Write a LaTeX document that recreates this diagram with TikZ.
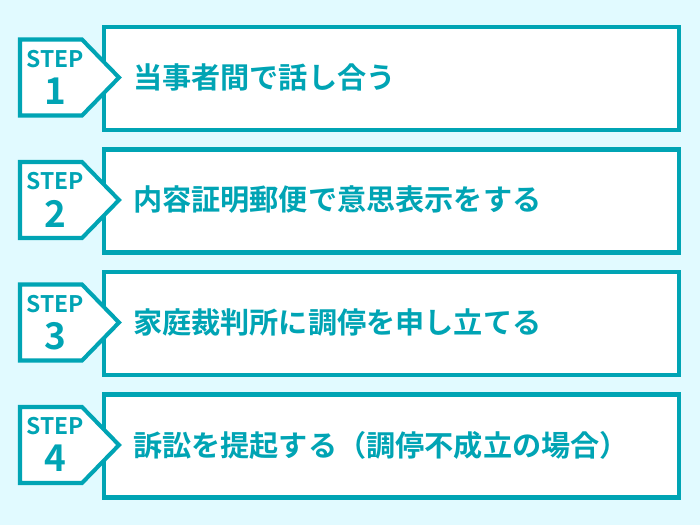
\documentclass[tikz,border=0pt]{standalone}
\usepackage{fontspec}
\usepackage{xcolor}
\newfontfamily\jpfont{Noto Sans CJK JP}[BoldFont=* Bold]
\definecolor{stepteal}{RGB}{0, 164, 180}
\definecolor{paleaqua}{RGB}{225, 250, 255}

\begin{document}
\begin{tikzpicture}[x=0.02cm, y=-0.02cm, line width=2.3pt,
    every node/.style={font=\jpfont\bfseries, text=stepteal},
    stepbox/.style={draw=stepteal, fill=white, minimum width=11.5cm, minimum height=2.06cm, inner sep=0pt},
    steptag/.style={draw=stepteal, fill=white, line join=miter},
    steplabel/.style={font=\jpfont\bfseries\fontsize{13}{13}\selectfont, inner sep=0pt},
    stepnum/.style={font=\jpfont\bfseries\fontsize{21}{21}\selectfont, inner sep=0pt},
    steptext/.style={font=\jpfont\bfseries\fontsize{16.6}{16.6}\selectfont, anchor=west, inner sep=0pt}]
    % background
    \fill[paleaqua] (0,0) rectangle (700,525);

    % Step 1
    \node[stepbox] (box1) at (391.5,78.5) {};
    \draw[steptag] (20,39.5) -- (82,39.5) -- (119,77.5) -- (82,115.5) -- (20,115.5) -- cycle;
    \node[steplabel] (step1) at (55,59) {STEP};
    \node[stepnum] (num1) at (55,91) {1};
    \node[steptext] (text1) at (131,77.5) {当事者間で話し合う};

    % Step 2
    \node[stepbox] (box2) at (391.5,201) {};
    \draw[steptag] (20,162) -- (82,162) -- (119,200) -- (82,238) -- (20,238) -- cycle;
    \node[steplabel] (step2) at (55,181.5) {STEP};
    \node[stepnum] (num2) at (55,213.5) {2};
    \node[steptext] (text2) at (131,200) {内容証明郵便で意思表示をする};

    % Step 3
    \node[stepbox] (box3) at (391.5,323.5) {};
    \draw[steptag] (20,284.5) -- (82,284.5) -- (119,322.5) -- (82,360.5) -- (20,360.5) -- cycle;
    \node[steplabel] (step3) at (55,304) {STEP};
    \node[stepnum] (num3) at (55,336) {3};
    \node[steptext] (text3) at (131,322.5) {家庭裁判所に調停を申し立てる};

    % Step 4
    \node[stepbox] (box4) at (391.5,446) {};
    \draw[steptag] (20,407) -- (82,407) -- (119,445) -- (82,483) -- (20,483) -- cycle;
    \node[steplabel] (step4) at (55,426.5) {STEP};
    \node[stepnum] (num4) at (55,458.5) {4};
    \node[steptext] (text4) at (131,445) {訴訟を提起する（調停不成立の場合）};
\end{tikzpicture}
\end{document}
